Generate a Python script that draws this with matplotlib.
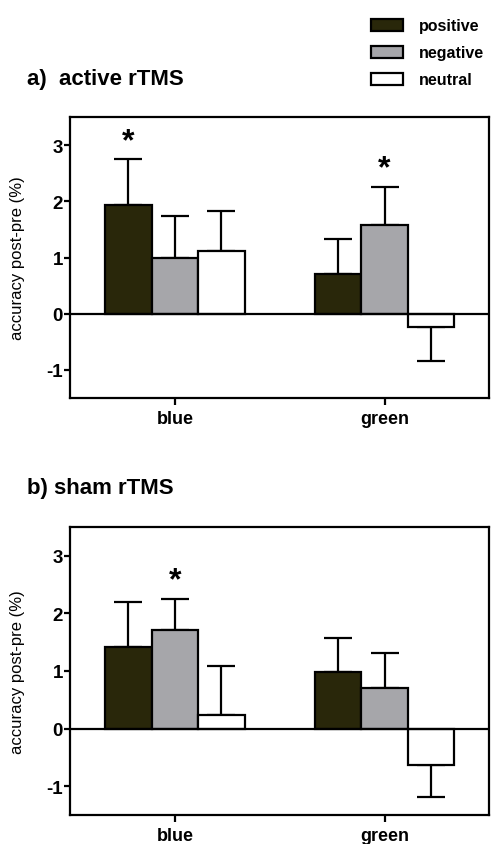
import matplotlib
matplotlib.use('Agg')
import matplotlib.pyplot as plt
import numpy as np

plt.rcParams['font.family'] = ['Liberation Sans', 'DejaVu Sans']
plt.rcParams['axes.unicode_minus'] = False

groups = ['blue', 'green']
series = ['positive', 'negative', 'neutral']
colors = ['#29270a', '#a6a6aa', '#ffffff']

# panel a) active rTMS : means and SEM, per series [blue, green]
active_mean = {'positive': [1.94, 0.70], 'negative': [0.99, 1.58], 'neutral': [1.11, -0.24]}
active_err = {'positive': [0.81, 0.63], 'negative': [0.74, 0.68], 'neutral': [0.72, 0.60]}
active_stars = [('positive', 0), ('negative', 1)]

# panel b) sham rTMS
sham_mean = {'positive': [1.41, 0.99], 'negative': [1.71, 0.71], 'neutral': [0.24, -0.64]}
sham_err = {'positive': [0.79, 0.59], 'negative': [0.54, 0.61], 'neutral': [0.85, 0.54]}
sham_stars = [('negative', 0)]

yticks = [-1, 0, 1, 2, 3]

fig = plt.figure(figsize=(4.91, 8.45), dpi=100)
W, H = 491, 845
ax_a = fig.add_axes([70 / W, 1 - 399 / H, 419.5 / W, (399 - 118) / H])
ax_b = fig.add_axes([70 / W, 1 - 816 / H, 419.5 / W, (816 - 528) / H])

width = 0.222
x = np.arange(len(groups))


def draw_panel(ax, means, errs, stars):
    handles = []
    for i, s in enumerate(series):
        pos = x + (i - 1) * width
        m = np.array(means[s])
        e = np.array(errs[s])
        b = ax.bar(pos, m, width, color=colors[i], edgecolor='black', linewidth=1.6,
                   label=s, zorder=3)
        handles.append(b)
        # one-sided error bars away from zero
        lo = np.where(m < 0, e, 0)
        hi = np.where(m >= 0, e, 0)
        ax.errorbar(pos, m, yerr=[lo, hi], fmt='none', ecolor='black', elinewidth=1.6,
                    capsize=10, capthick=1.6, zorder=2)
    for s, g in stars:
        i = series.index(s)
        top = means[s][g] + errs[s][g]
        ax.text(x[g] + (i - 1) * width, top + 0.06, '*', ha='center', va='bottom',
                fontsize=23, fontweight='bold')
    ax.axhline(0, color='black', linewidth=1.6, zorder=4)
    ax.set_xlim(-0.5, 1.5)
    ax.set_ylim(-1.5, 3.5)
    ax.set_yticks(yticks)
    ax.set_xticks(x)
    ax.set_xticklabels(groups, fontsize=13, fontweight='bold')
    for lab in ax.get_yticklabels():
        lab.set_fontsize(13.5)
        lab.set_fontweight('bold')
    ax.tick_params(axis='y', direction='out', length=4, width=1.6, pad=1)
    ax.tick_params(axis='x', direction='out', length=5, width=1.6, pad=4)
    for sp in ax.spines.values():
        sp.set_linewidth(1.6)
    ax.set_ylabel('accuracy post-pre (%)', fontsize=12)
    ax.yaxis.set_label_coords(-0.107, 0.5)
    return handles


handles = draw_panel(ax_a, active_mean, active_err, active_stars)
draw_panel(ax_b, sham_mean, sham_err, sham_stars)

fig.text(27 / W, 1 - 79 / H, 'a)  active rTMS', fontsize=16, fontweight='bold', va='center')
fig.text(27 / W, 1 - 489 / H, 'b) sham rTMS', fontsize=16, fontweight='bold', va='center')

leg = fig.legend(handles, series, loc='upper left', bbox_to_anchor=(357 / W, 1 - 5 / H),
                 frameon=False, prop={'weight': 'bold', 'size': 11.5},
                 handlelength=2.0, handleheight=0.75, labelspacing=0.75, handletextpad=1.0)

fig.savefig('out.png', dpi=100, facecolor='white')
